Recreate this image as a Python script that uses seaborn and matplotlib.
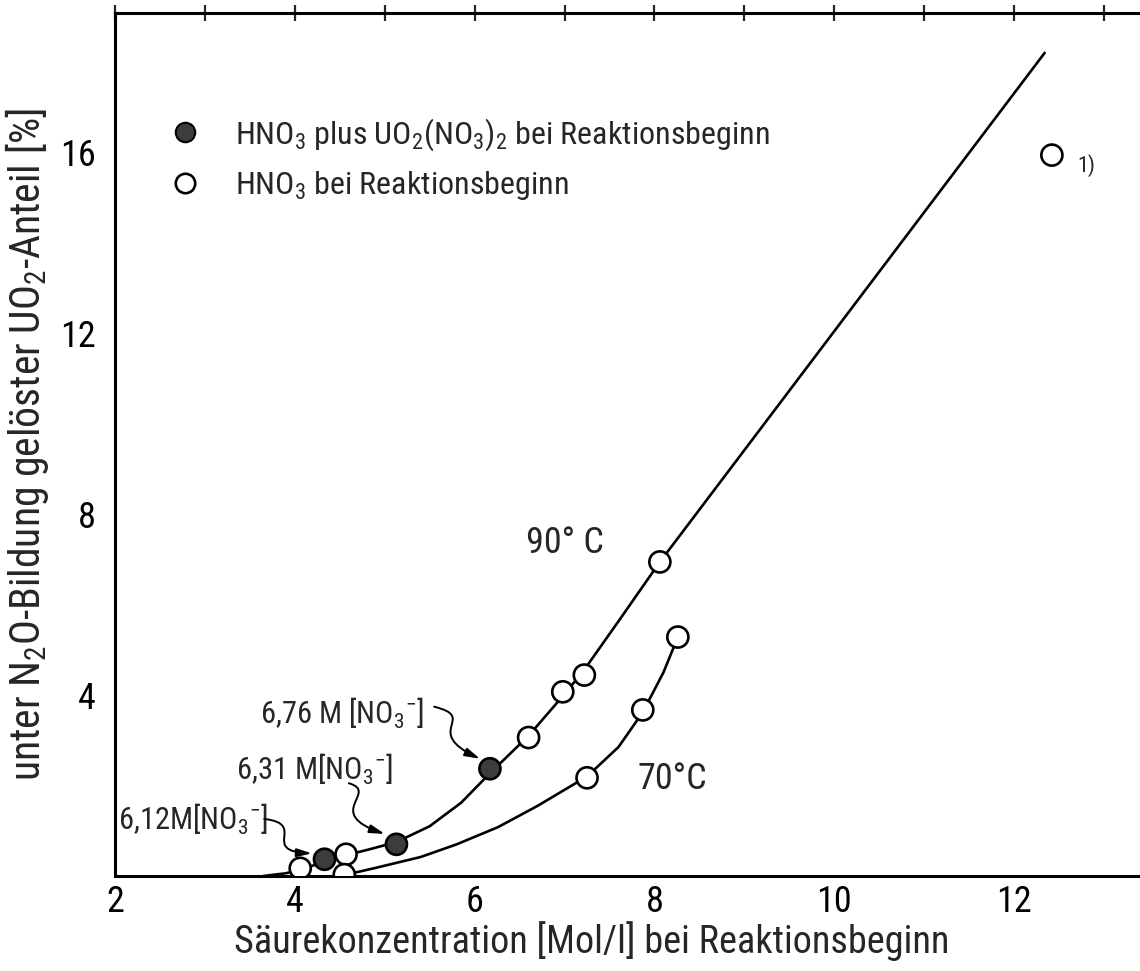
import matplotlib
matplotlib.use("Agg")
import matplotlib.pyplot as plt
import seaborn as sns
import pandas as pd
from matplotlib import font_manager as fm
from matplotlib.lines import Line2D
from matplotlib.path import Path
from matplotlib.patches import FancyArrowPatch

# Messpunkte
pts_x = [4.06, 4.57, 6.60, 6.98, 7.22, 8.06, 4.55, 7.25, 7.87, 8.26, 12.42, 4.33, 5.13, 6.17]
pts_y = [0.17, 0.48, 3.06, 4.07, 4.44, 6.94, 0.03, 2.17, 3.67, 5.28, 15.93, 0.37, 0.70, 2.37]
pts_typ = ["HNO3"] * 11 + ["HNO3+UO2"] * 3

c90_x = [3.65, 3.9, 4.1, 4.33, 4.57, 4.85, 5.13, 5.5, 5.85, 6.17, 6.6, 7.0, 7.22, 7.6, 8.06, 12.34]
c90_y = [0.0, 0.06, 0.16, 0.32, 0.46, 0.60, 0.75, 1.10, 1.62, 2.27, 3.10, 4.02, 4.56, 5.63, 6.94, 18.19]
c70_x = [4.55, 4.9, 5.4, 5.8, 6.26, 6.7, 7.25, 7.6, 7.87, 8.1, 8.26]
c70_y = [0.02, 0.18, 0.42, 0.70, 1.08, 1.55, 2.20, 2.85, 3.62, 4.50, 5.28]

x_major = [2, 4, 6, 8, 10, 12]
x_minor = [3, 5, 7, 9, 11, 13]
y_major = [4, 8, 12, 16]
y_minor = [2, 6, 10, 14, 18]

sns.set_style("white")

# schmale Schrift suchen, sonst DejaVu etwas kleiner
fonts = fm.fontManager.ttflist
fam, stretch, k = "DejaVu Sans", "normal", 0.86
for name in ["Roboto Condensed", "Open Sans Condensed", "Liberation Sans Narrow", "DejaVu Sans Condensed"]:
    if any(f.name == name for f in fonts):
        fam, k = name, 1.0
        break
else:
    if any(f.name == "DejaVu Sans" and f.stretch in ("condensed", "semi-condensed", 300, 400) for f in fonts):
        stretch, k = "condensed", 1.0

plt.rcParams["font.family"] = [fam, "DejaVu Sans"]
plt.rcParams["font.stretch"] = stretch
plt.rcParams["mathtext.fontset"] = "custom"
plt.rcParams["mathtext.rm"] = fam
plt.rcParams["mathtext.default"] = "regular"

df = pd.DataFrame({"x": pts_x, "y": pts_y, "typ": pts_typ})

fig = plt.figure(figsize=(11.4, 9.71), dpi=100)
ax = fig.add_axes([115 / 1140, 95 / 971, 1025 / 1140, 863 / 971])

sns.lineplot(x=c90_x, y=c90_y, sort=False, estimator=None, color="black", lw=1.9, ax=ax)
sns.lineplot(x=c70_x, y=c70_y, sort=False, estimator=None, color="black", lw=1.9, ax=ax)

sns.scatterplot(data=df, x="x", y="y", hue="typ",
                palette={"HNO3": "white", "HNO3+UO2": "#3c3c3c"},
                s=230, edgecolor="black", linewidth=1.9, legend=False, zorder=5, ax=ax)

ax.set_xlim(2, 13.40)
ax.set_ylim(0, 19.07)

for side in ["left", "bottom", "top"]:
    ax.spines[side].set_linewidth(2.2)
    ax.spines[side].set_color("black")
ax.spines["right"].set_visible(False)

ax.set_xticks(x_major)
ax.set_xticks(x_minor, minor=True)
ax.set_yticks(y_major)
ax.set_yticks(y_minor, minor=True)
ax.tick_params(axis="both", which="both", direction="inout", length=12, width=1.6,
               top=True, right=False, labelsize=26 * k, labelcolor="black")
ax.tick_params(axis="x", which="major", pad=0)
ax.tick_params(axis="y", which="major", pad=8)

ax.set_xlabel("Säurekonzentration [Mol/l] bei Reaktionsbeginn", fontsize=27.5 * k)
ax.xaxis.set_label_coords(0.465, -0.052)
ax.set_ylabel("unter N$_2$O-Bildung gelöster UO$_2$-Anteil [%]", fontsize=30 * k, labelpad=6)

# Legende
handles = [
    Line2D([], [], marker="o", ls="", markersize=14, markerfacecolor="#3c3c3c",
           markeredgecolor="black", markeredgewidth=1.5),
    Line2D([], [], marker="o", ls="", markersize=14, markerfacecolor="white",
           markeredgecolor="black", markeredgewidth=1.9),
]
labels = ["HNO$_3$ plus UO$_2$(NO$_3$)$_2$ bei Reaktionsbeginn", "HNO$_3$ bei Reaktionsbeginn"]
ax.legend(handles, labels, loc="upper left", bbox_to_anchor=(0.025, 0.895), frameon=False,
          fontsize=23 * k, handletextpad=0.55, labelspacing=0.5, borderaxespad=0)

# Beschriftungen
ax.text(7.0, 7.35, "90° C", fontsize=26 * k, ha="center", va="center")
ax.text(8.2, 2.15, "70°C", fontsize=26 * k, ha="center", va="center")
ax.text(12.8, 15.7, "1)", fontsize=16 * k, ha="center", va="center")

ax.text(4.52, 3.6, "6,76 M [NO$_3$$^{-}$]", fontsize=22 * k, ha="center", va="center")
ax.text(4.22, 2.35, "6,31 M[NO$_3$$^{-}$]", fontsize=22 * k, ha="center", va="center")
ax.text(2.87, 1.25, "6,12M[NO$_3$$^{-}$]", fontsize=22 * k, ha="center", va="center")

# geschwungene Pfeile
squiggles = [
    [(5.55, 3.74), (6.05, 3.5), (5.4, 3.2), (6.06, 2.59)],
    [(4.60, 2.05), (4.95, 1.85), (4.3, 1.4), (5.0, 0.93)],
    [(3.66, 1.26), (4.15, 1.15), (3.6, 0.55), (4.19, 0.50)],
]
for v in squiggles:
    p = Path(v, [Path.MOVETO, Path.CURVE4, Path.CURVE4, Path.CURVE4])
    arr = FancyArrowPatch(path=p, arrowstyle="-|>,head_length=9,head_width=2.5",
                          color="black", lw=1.4, zorder=4)
    ax.add_patch(arr)

fig.savefig("out.png", dpi=100)
